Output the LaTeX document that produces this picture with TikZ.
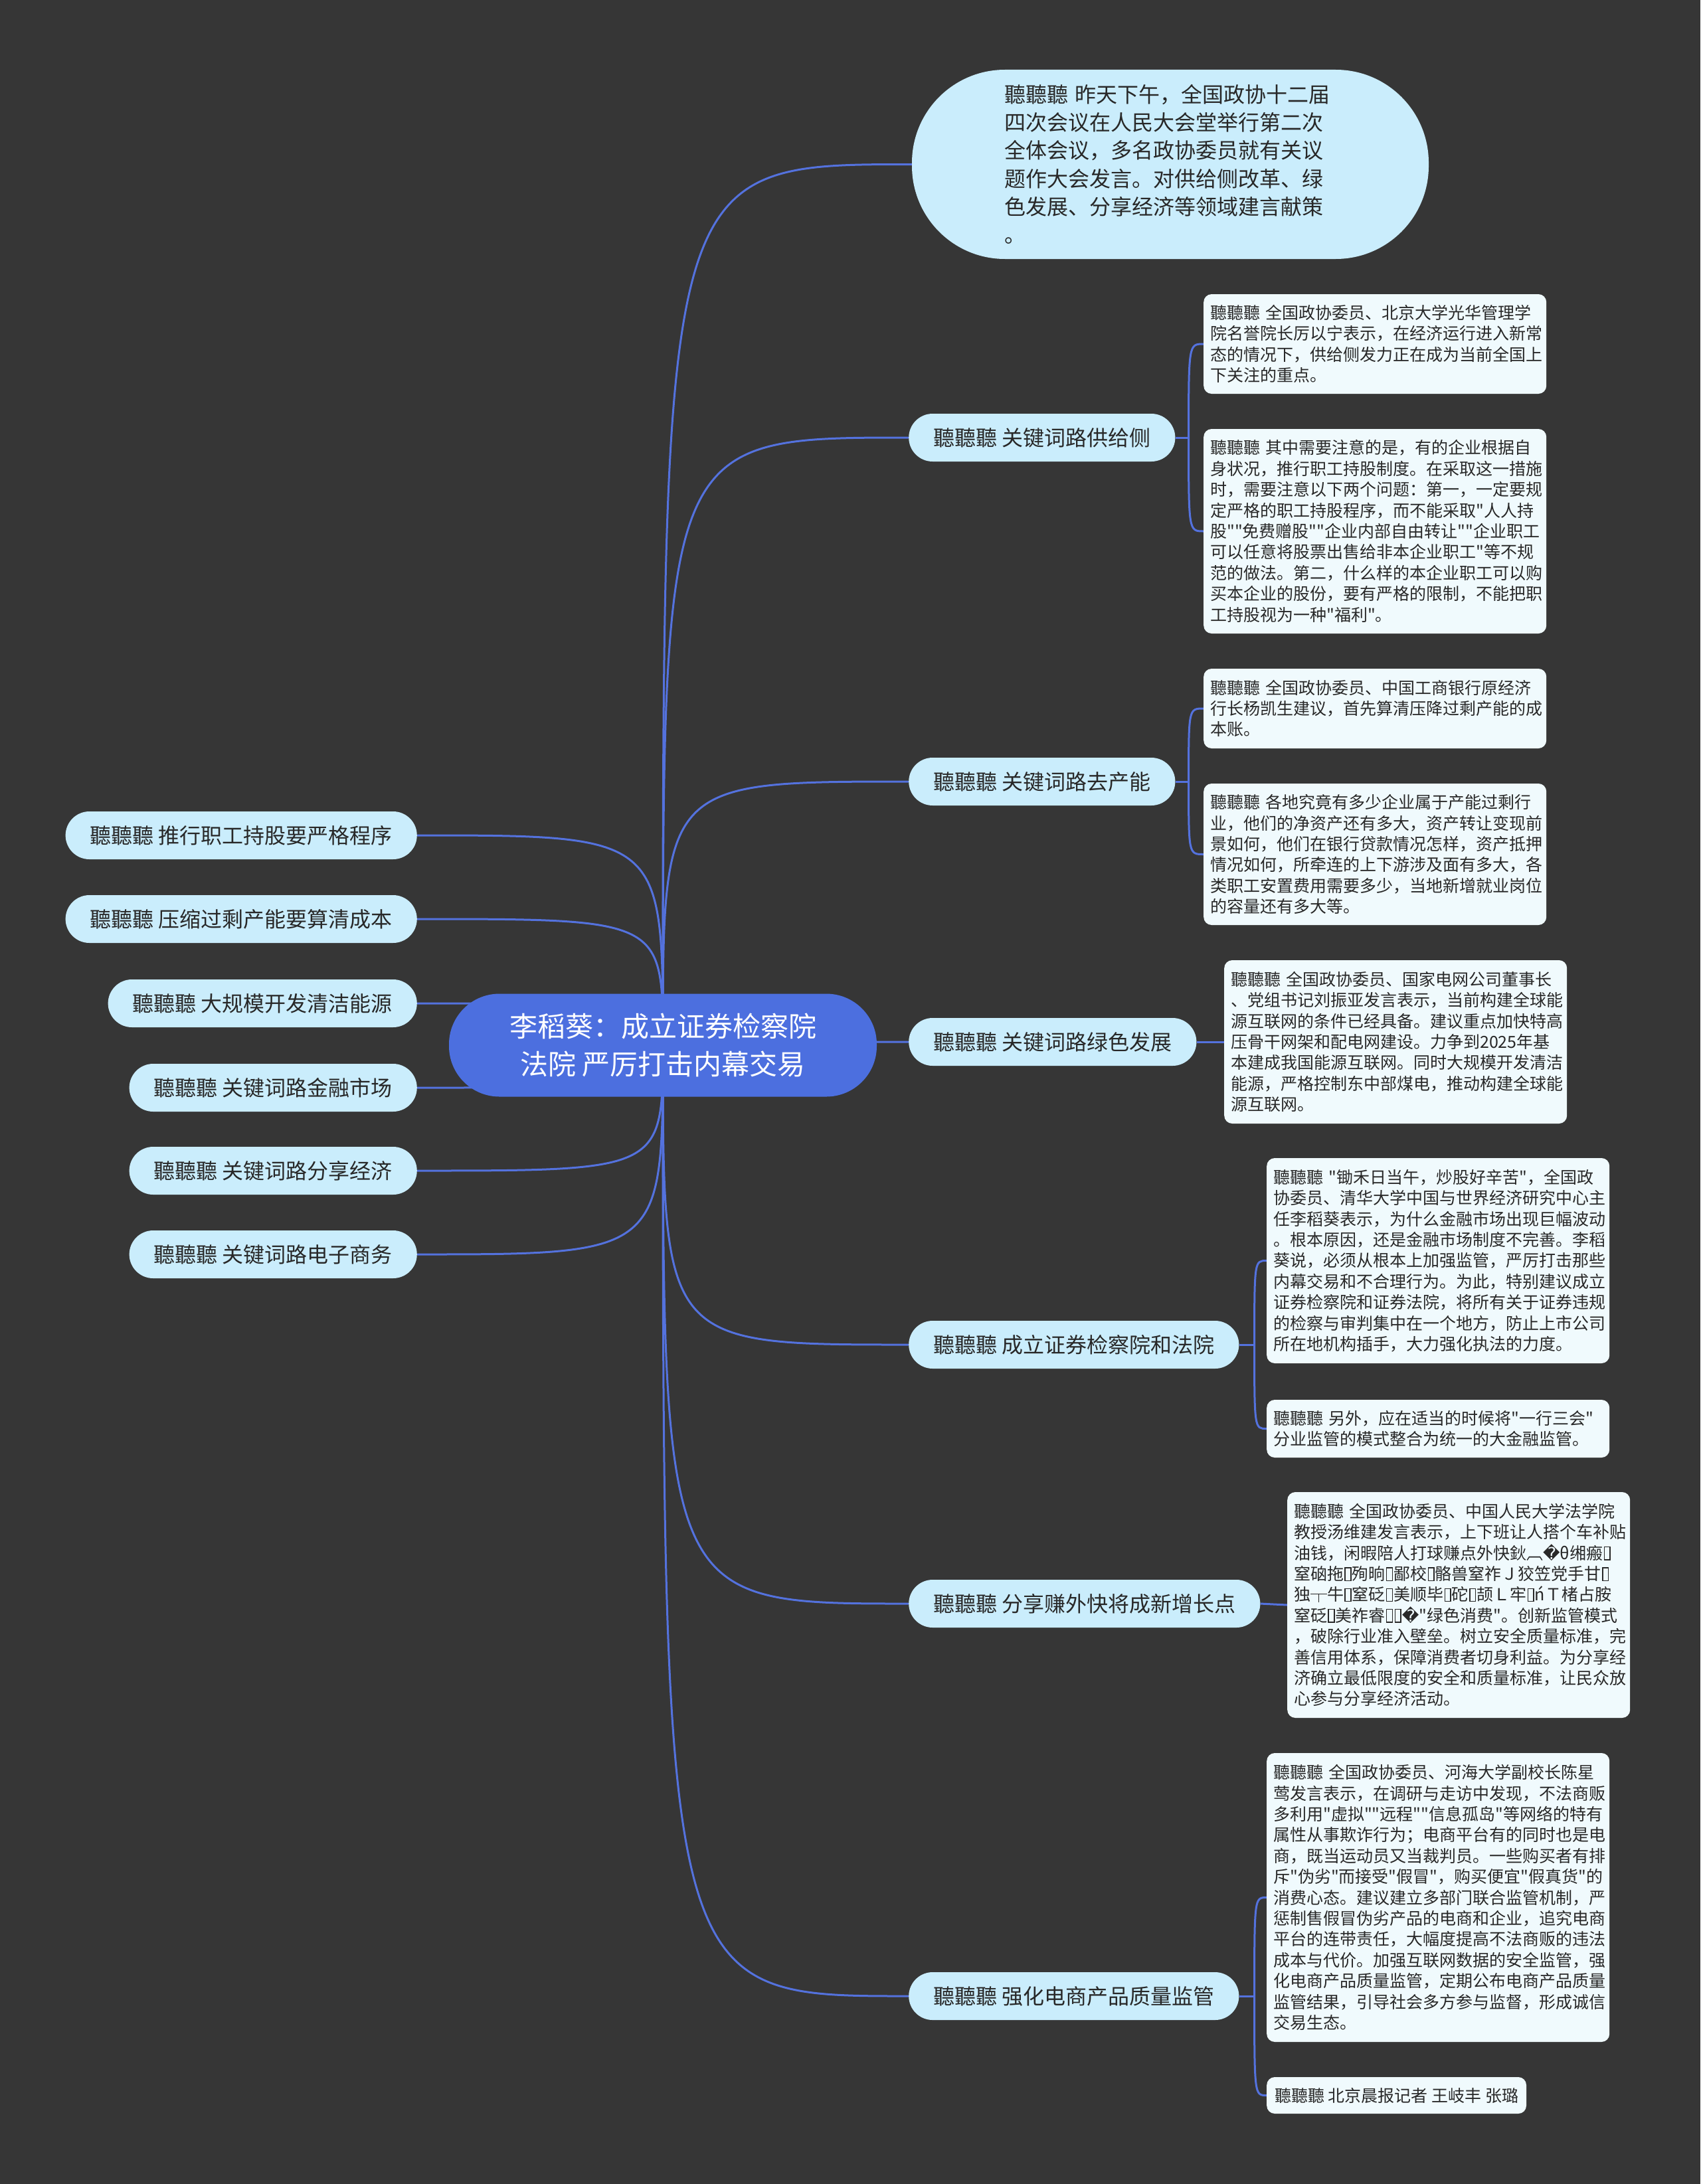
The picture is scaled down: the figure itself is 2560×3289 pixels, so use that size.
\documentclass[tikz,border=0pt]{standalone}
\usepackage{fontspec}
\newfontfamily\cjk{Noto Sans CJK SC}
\newfontfamily\dv{DejaVu Sans}
\usetikzlibrary{backgrounds}
\definecolor{bgc}{RGB}{54,54,54}
\definecolor{rootc}{RGB}{76,111,223}
\definecolor{lvlc}{RGB}{202,237,252}
\definecolor{leafc}{RGB}{240,250,253}
\definecolor{txtc}{RGB}{40,40,40}
\definecolor{linkc}{RGB}{84,114,222}
\tikzset{
  conn/.style={draw=linkc, line width=3pt},
  rootn/.style={fill=rootc, text=white, rounded corners=76pt, minimum width=644pt, minimum height=155pt, align=center, inner sep=0pt, font=\cjk\fontsize{42}{57}\selectfont},
  lvl/.style={fill=lvlc, text=txtc, rounded corners=36pt, minimum height=72pt, inner xsep=37pt, inner ysep=0pt, font=\cjk\fontsize{32}{38}\selectfont},
  lvll/.style={lvl, anchor=east},
  lvlr/.style={lvl, anchor=west},
  topn/.style={fill=lvlc, text=txtc, rounded corners=140pt, minimum width=778pt, minimum height=285pt, text width=500pt, align=left, inner sep=0pt, font=\cjk\fontsize{32}{42.3}\selectfont},
  leafbase/.style={fill=leafc, text=txtc, rounded corners=12pt, align=left, inner xsep=10pt, inner ysep=0pt, anchor=west, font=\cjk\fontsize{25}{31.4}\selectfont},
  leaf/.style={leafbase, text width=496pt},
}
\newcommand{\tofu}{{\dv �}}
\newcommand{\tb}{\kern0.05em{\setlength{\fboxsep}{0pt}\setlength{\fboxrule}{1.4pt}\fbox{\rule{0pt}{0.72em}\hspace{0.29em}}}\kern0.05em}
\begin{document}
\begin{tikzpicture}[x=1pt,y=-1pt]
\useasboundingbox (0,0) rectangle (2560,3289);
% root
\node[rootn] (root) at (998,1574) {李稻葵：成立证券检察院\\法院 严厉打击内幕交易};
% top box
\node[topn] (top) at (1762,247.5) {聽聽聽~昨天下午，全国政协十二届\\四次会议在人民大会堂举行第二次\\全体会议，多名政协委员就有关议\\题作大会发言。对供给侧改革、绿\\色发展、分享经济等领域建言献策\\。};
% right level-1
\node[lvlr] (n2) at (1368,659) {聽聽聽 关键词路供给侧};
\node[lvlr] (n3) at (1368,1177) {聽聽聽 关键词路去产能};
\node[lvlr] (n4) at (1368,1569) {聽聽聽 关键词路绿色发展};
\node[lvlr] (n5) at (1368,2025) {聽聽聽 成立证券检察院和法院};
\node[lvlr] (n6) at (1368,2415) {聽聽聽 分享赚外快将成新增长点};
\node[lvlr] (n7) at (1368,3006) {聽聽聽 强化电商产品质量监管};
% left level-1
\node[lvll] (l1) at (628,1258) {聽聽聽 推行职工持股要严格程序};
\node[lvll] (l2) at (628,1384) {聽聽聽 压缩过剩产能要算清成本};
\node[lvll] (l3) at (628,1511) {聽聽聽 大规模开发清洁能源};
\node[lvll] (l4) at (628,1638) {聽聽聽 关键词路金融市场};
\node[lvll] (l5) at (628,1763) {聽聽聽 关键词路分享经济};
\node[lvll] (l6) at (628,1889) {聽聽聽 关键词路电子商务};
% leaves
\node[leaf, minimum height=150pt] (a1) at (1812,518) {聽聽聽~全国政协委员、北京大学光华管理学\\院名誉院长厉以宁表示，在经济运行进入新常\\态的情况下，供给侧发力正在成为当前全国上\\下关注的重点。};
\node[leaf, minimum height=308pt] (a2) at (1812,800) {聽聽聽~其中需要注意的是，有的企业根据自\\身状况，推行职工持股制度。在采取这一措施\\时，需要注意以下两个问题：第一，一定要规\\定严格的职工持股程序，而不能采取"人人持\\股""免费赠股""企业内部自由转让""企业职工\\可以任意将股票出售给非本企业职工"等不规\\范的做法。第二，什么样的本企业职工可以购\\买本企业的股份，要有严格的限制，不能把职\\工持股视为一种"福利"。};
\node[leaf, minimum height=120pt] (b1) at (1812,1067) {聽聽聽~全国政协委员、中国工商银行原经济\\行长杨凯生建议，首先算清压降过剩产能的成\\本账。};
\node[leaf, minimum height=213pt] (b2) at (1812,1286.5) {聽聽聽~各地究竟有多少企业属于产能过剩行\\业，他们的净资产还有多大，资产转让变现前\\景如何，他们在银行贷款情况怎样，资产抵押\\情况如何，所牵连的上下游涉及面有多大，各\\类职工安置费用需要多少，当地新增就业岗位\\的容量还有多大等。};
\node[leaf, minimum height=246pt] (c1) at (1843,1569) {聽聽聽~全国政协委员、国家电网公司董事长\\、党组书记刘振亚发言表示，当前构建全球能\\源互联网的条件已经具备。建议重点加快特高\\压骨干网架和配电网建设。力争到2025年基\\本建成我国能源互联网。同时大规模开发清洁\\能源，严格控制东中部煤电，推动构建全球能\\源互联网。};
\node[leaf, minimum height=309pt] (d1) at (1907,1898.5) {聽聽聽~"锄禾日当午，炒股好辛苦"，全国政\\协委员、清华大学中国与世界经济研究中心主\\任李稻葵表示，为什么金融市场出现巨幅波动\\。根本原因，还是金融市场制度不完善。李稻\\葵说，必须从根本上加强监管，严厉打击那些\\内幕交易和不合理行为。为此，特别建议成立\\证券检察院和证券法院，将所有关于证券违规\\的检察与审判集中在一个地方，防止上市公司\\所在地机构插手，大力强化执法的力度。};
\node[leaf, minimum height=87pt] (d2) at (1907,2151.5) {聽聽聽~另外，应在适当的时候将"一行三会"\\分业监管的模式整合为统一的大金融监管。};
\node[leaf, minimum height=340pt] (e1) at (1938,2417) {聽聽聽~全国政协委员、中国人民大学法学院\\教授汤维建发言表示，上下班让人搭个车补贴\\油钱，闲暇陪人打球赚点外快鈥︹\tofu θ缃瘢\tb\\窒硇拖\tb 殉晌\tb 鄙校\tb 骼兽窒祚Ｊ狡笠党手甘\tb\\独┬牛\tb 窒砭\tb 美顺毕\tb 砣\tb 颉Ｌ牢\tb ńＴ楮占胺\\窒砭\tb 美祚睿\tb\tb\tofu"绿色消费"。创新监管模式\\，破除行业准入壁垒。树立安全质量标准，完\\善信用体系，保障消费者切身利益。为分享经\\济确立最低限度的安全和质量标准，让民众放\\心参与分享经济活动。};
\node[leaf, minimum height=435pt] (f1) at (1907,2857.5) {聽聽聽~全国政协委员、河海大学副校长陈星\\莺发言表示，在调研与走访中发现，不法商贩\\多利用"虚拟""远程""信息孤岛"等网络的特有\\属性从事欺诈行为；电商平台有的同时也是电\\商，既当运动员又当裁判员。一些购买者有排\\斥"伪劣"而接受"假冒"，购买便宜"假真货"的\\消费心态。建议建立多部门联合监管机制，严\\惩制售假冒伪劣产品的电商和企业，追究电商\\平台的连带责任，大幅度提高不法商贩的违法\\成本与代价。加强互联网数据的安全监管，强\\化电商产品质量监管，定期公布电商产品质量\\监管结果，引导社会多方参与监督，形成诚信\\交易生态。};
\node[leafbase, minimum height=55pt, inner xsep=12pt] (f2) at (1907,3155.5) {聽聽聽~北京晨报记者~王岐丰~张璐};
% junctions
\path (n2.east) ++(20,0) coordinate (j2);
\path (n3.east) ++(20,0) coordinate (j3);
\path (n5.east) ++(23,0) coordinate (j5);
\path (n7.east) ++(23,0) coordinate (j7);
\begin{scope}[on background layer]
\fill[bgc] (0,0) rectangle (2560,3289);
% root to right children
\foreach \c in {top,n2,n3,n4,n5,n6,n7}{
  \draw[conn] (root.center) .. controls (root.center |- \c.west) .. (\c.west);
}
% root to left children
\foreach \c in {l1,l2,l3,l4,l5,l6}{
  \draw[conn] (root.center) .. controls (root.center |- \c.east) .. (\c.east);
}
% brackets
\draw[conn] (n2.east) -- (j2);
\draw[conn] (j2) .. controls (j2 |- a1.west) .. (a1.west);
\draw[conn] (j2) .. controls (j2 |- a2.west) .. (a2.west);
\draw[conn] (n3.east) -- (j3);
\draw[conn] (j3) .. controls (j3 |- b1.west) .. (b1.west);
\draw[conn] (j3) .. controls (j3 |- b2.west) .. (b2.west);
\draw[conn] (n4.east) -- (c1.west);
\draw[conn] (n5.east) -- (j5);
\draw[conn] (j5) .. controls (j5 |- d1.west) .. (d1.west);
\draw[conn] (j5) .. controls (j5 |- d2.west) .. (d2.west);
\draw[conn] (n6.east) -- (e1.west);
\draw[conn] (n7.east) -- (j7);
\draw[conn] (j7) .. controls (j7 |- f1.west) .. (f1.west);
\draw[conn] (j7) .. controls (j7 |- f2.west) .. (f2.west);
\end{scope}
\end{tikzpicture}
\end{document}
